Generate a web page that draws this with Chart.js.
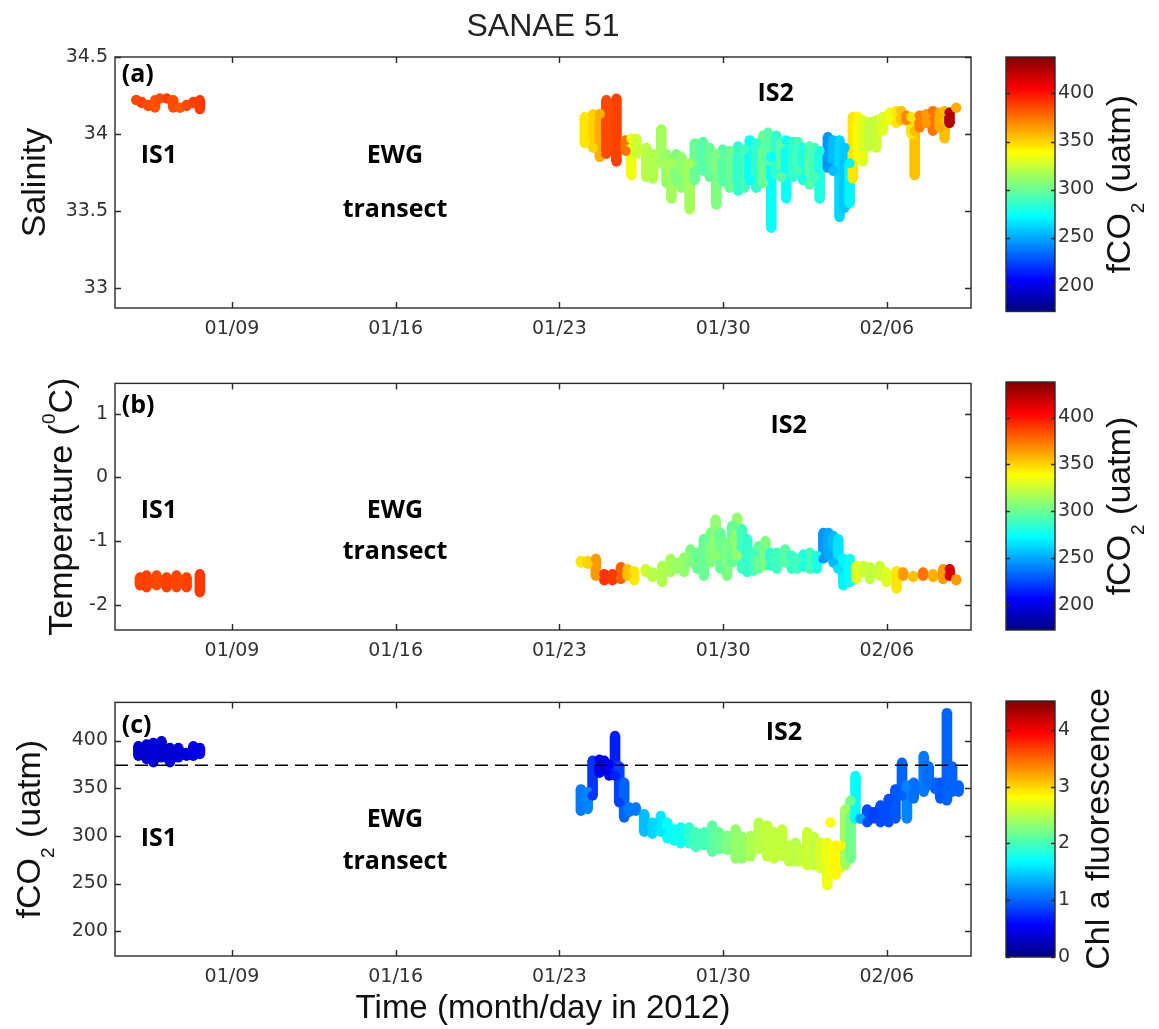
<!DOCTYPE html>
<html>
<head>
<meta charset="utf-8">
<script src="https://cdn.jsdelivr.net/npm/chart.js@4.4.1/dist/chart.umd.min.js"></script>
<style>
html, body { margin: 0; padding: 0; background: #fff; }
#wrap { position: relative; width: 1159px; height: 1029px; overflow: hidden; background: #fff; }
canvas { position: absolute; }
</style>
</head>
<body>
<div id="wrap">
  <canvas id="pa" width="990" height="340" style="left:0px;top:0px"></canvas>
  <canvas id="pb" width="990" height="300" style="left:0px;top:365px"></canvas>
  <canvas id="pc" width="990" height="345" style="left:0px;top:684px"></canvas>
  <canvas id="ca" width="169" height="300" style="left:990px;top:40px"></canvas>
  <canvas id="cb" width="169" height="300" style="left:990px;top:365px"></canvas>
  <canvas id="cc" width="169" height="345" style="left:990px;top:684px"></canvas>
</div>
<script>
// ---------------- DATA ----------------
// time axis: day of January 2012 (Feb 6 = day 37)
const xMin = 4.0, xMax = 40.6;
const xTickDays = [9, 16, 23, 30, 37];
const xTickLabels = ['01/09', '01/16', '01/23', '01/30', '02/06'];

const salinityTicks = [33, 33.5, 34, 34.5];
const temperatureTicks = [-2, -1, 0, 1];
const fco2Ticks = [200, 250, 300, 350, 400];
const fco2ColorTicks = [200, 250, 300, 350, 400];
const chlColorTicks = [0, 1, 2, 3, 4];

const fco2ColorRange = [173, 438];
const chlColorRange = [0, 4.51];
const atmosphericFco2 = 374;

// rows: [day, lowest value, highest value, colour value (fCO2)]
const salinityIS1 = [
  [4.91, 34.22, 34.22, 386], [5.14, 34.20, 34.21, 387], [5.42, 34.18, 34.19, 385],
  [5.71, 34.17, 34.22, 384], [5.92, 34.23, 34.23, 386], [6.21, 34.23, 34.23, 388],
  [6.49, 34.17, 34.22, 385], [6.78, 34.17, 34.17, 383], [7.06, 34.18, 34.19, 386],
  [7.35, 34.20, 34.21, 388], [7.63, 34.16, 34.22, 390]
];
const salinityIS2 = [
  [24.09, 33.94, 34.11, 345], [24.44, 33.91, 34.13, 350], [24.73, 33.85, 34.13, 360],
  [25.01, 33.87, 34.22, 386], [25.44, 33.82, 34.23, 388], [25.84, 33.89, 33.96, 375],
  [26.08, 33.73, 33.97, 335], [26.29, 33.87, 33.97, 325], [26.72, 33.72, 33.91, 320],
  [27.01, 33.71, 33.87, 318], [27.36, 33.81, 34.03, 315], [27.58, 33.68, 33.87, 312],
  [27.79, 33.58, 33.81, 315], [28.00, 33.70, 33.87, 305], [28.22, 33.65, 33.85, 310],
  [28.57, 33.51, 33.81, 315], [28.79, 33.70, 33.94, 300], [29.14, 33.76, 33.95, 295],
  [29.43, 33.72, 33.91, 300], [29.71, 33.54, 33.87, 305], [29.99, 33.69, 33.90, 295],
  [30.28, 33.65, 33.89, 300], [30.64, 33.63, 33.92, 285], [30.92, 33.65, 33.90, 290],
  [31.14, 33.70, 33.96, 275], [31.42, 33.65, 33.94, 285], [31.71, 33.68, 33.99, 300],
  [31.92, 33.83, 34.01, 295], [32.06, 33.39, 33.85, 275], [32.28, 33.74, 33.99, 285],
  [32.49, 33.72, 33.94, 295], [32.70, 33.58, 33.96, 275], [32.99, 33.72, 33.95, 285],
  [33.20, 33.76, 33.95, 290], [33.42, 33.70, 33.91, 280], [33.70, 33.67, 33.92, 295],
  [33.91, 33.72, 33.91, 290], [34.13, 33.58, 33.89, 280], [34.48, 33.78, 33.98, 245],
  [34.70, 33.76, 33.96, 255], [34.98, 33.46, 33.96, 262], [35.20, 33.52, 33.91, 258],
  [35.41, 33.55, 33.81, 270], [35.55, 33.71, 34.11, 345], [35.77, 33.85, 34.11, 340],
  [35.98, 33.82, 34.09, 330], [36.26, 33.92, 34.08, 322], [36.55, 33.91, 34.09, 325],
  [36.83, 34.02, 34.11, 330], [37.12, 34.09, 34.14, 335], [37.40, 34.07, 34.15, 345],
  [37.62, 34.09, 34.15, 355], [37.83, 34.09, 34.12, 370], [38.05, 34.00, 34.11, 345],
  [38.19, 33.73, 34.02, 355], [38.40, 34.04, 34.12, 372], [38.69, 34.07, 34.13, 365],
  [38.97, 34.02, 34.15, 375], [39.26, 34.04, 34.14, 360], [39.47, 33.97, 34.15, 355],
  [39.68, 34.07, 34.14, 425], [39.97, 34.17, 34.17, 360]
];

// rows: [day, lowest, highest, colour value (fCO2)]
const temperatureIS1 = [
  [5.07, -1.70, -1.57, 388], [5.35, -1.73, -1.54, 388], [5.78, -1.70, -1.54, 386],
  [6.21, -1.73, -1.57, 388], [6.63, -1.73, -1.54, 387], [7.06, -1.73, -1.57, 388],
  [7.63, -1.81, -1.52, 390]
];
const temperatureIS2 = [
  [23.92, -1.34, -1.31, 345], [24.21, -1.36, -1.31, 350], [24.56, -1.55, -1.28, 365],
  [24.92, -1.62, -1.52, 392], [25.27, -1.62, -1.52, 390], [25.63, -1.60, -1.41, 380],
  [25.91, -1.55, -1.44, 355], [26.20, -1.62, -1.47, 345], [26.69, -1.49, -1.44, 325],
  [26.98, -1.57, -1.49, 320], [27.40, -1.65, -1.39, 318], [27.76, -1.49, -1.28, 315],
  [28.04, -1.44, -1.34, 312], [28.33, -1.49, -1.26, 310], [28.61, -1.34, -1.13, 305],
  [28.89, -1.44, -1.18, 300], [29.18, -1.55, -0.97, 300], [29.46, -1.34, -0.87, 305],
  [29.68, -1.23, -0.66, 310], [29.89, -1.44, -0.87, 300], [30.17, -1.55, -1.02, 305],
  [30.39, -1.34, -0.76, 300], [30.60, -1.23, -0.63, 310], [30.81, -1.44, -0.81, 290],
  [31.03, -1.49, -0.97, 285], [31.31, -1.47, -1.18, 290], [31.52, -1.44, -1.08, 300],
  [31.81, -1.39, -1.00, 305], [32.02, -1.39, -1.18, 285], [32.30, -1.44, -1.18, 290],
  [32.66, -1.34, -1.13, 295], [32.94, -1.44, -1.23, 285], [33.16, -1.44, -1.28, 290],
  [33.44, -1.41, -1.21, 280], [33.72, -1.44, -1.18, 290], [34.01, -1.44, -1.23, 280],
  [34.29, -1.28, -0.87, 245], [34.51, -1.23, -0.87, 250], [34.72, -1.34, -0.92, 255],
  [34.93, -1.44, -0.97, 265], [35.14, -1.70, -1.28, 270], [35.43, -1.65, -1.28, 275],
  [35.71, -1.60, -1.39, 330], [36.00, -1.49, -1.39, 325], [36.28, -1.60, -1.41, 322],
  [36.71, -1.55, -1.39, 325], [36.99, -1.65, -1.49, 330], [37.42, -1.75, -1.47, 345],
  [37.70, -1.55, -1.49, 365], [38.13, -1.57, -1.55, 355], [38.55, -1.55, -1.49, 375],
  [38.98, -1.57, -1.52, 360], [39.41, -1.60, -1.44, 365], [39.69, -1.55, -1.44, 415],
  [39.97, -1.62, -1.60, 365]
];

// rows: [day, lowest, highest, colour value (Chl a fluorescence)]
const fco2IS1 = [
  [5.00, 383.8, 394.3, 0.35], [5.35, 380.4, 396.0, 0.35], [5.64, 376.9, 397.8, 0.40],
  [5.99, 382.1, 399.5, 0.35], [6.35, 376.9, 392.5, 0.35], [6.71, 382.1, 392.5, 0.40],
  [7.06, 383.8, 387.3, 0.40], [7.35, 383.8, 394.3, 0.45], [7.63, 385.6, 392.5, 0.45]
];
const fco2IS2 = [
  [23.92, 326, 349, 1.10], [24.21, 328, 346, 1.15], [24.42, 342, 379, 0.80],
  [24.71, 366, 380, 0.50], [24.92, 370, 379, 0.40], [25.13, 363, 375, 0.55],
  [25.38, 363, 405, 0.70], [25.56, 335, 373, 0.85], [25.77, 319, 356, 1.00],
  [25.99, 325, 330, 1.10], [26.27, 326, 330, 1.10], [26.63, 304, 323, 1.40],
  [26.98, 302, 314, 1.50], [27.34, 304, 321, 1.60], [27.62, 297, 314, 1.70],
  [27.91, 295, 307, 1.75], [28.19, 292, 309, 1.75], [28.55, 292, 309, 1.90],
  [28.83, 288, 304, 2.00], [29.19, 290, 304, 2.00], [29.54, 283, 311, 2.10],
  [29.83, 286, 304, 2.15], [30.18, 285, 300, 2.25], [30.54, 276, 307, 2.35],
  [30.82, 276, 299, 2.35], [31.18, 278, 300, 2.45], [31.53, 286, 314, 2.50],
  [31.89, 278, 311, 2.55], [32.17, 276, 304, 2.55], [32.53, 279, 307, 2.55],
  [32.82, 273, 290, 2.55], [33.10, 273, 293, 2.50], [33.31, 273, 286, 2.55],
  [33.60, 269, 304, 2.60], [33.88, 269, 299, 2.55], [34.17, 266, 293, 2.65],
  [34.45, 248, 293, 2.75], [34.59, 314, 314, 2.80], [34.81, 259, 290, 2.85],
  [35.02, 266, 290, 2.85], [35.23, 269, 328, 2.40], [35.45, 276, 337, 2.20],
  [35.66, 318, 363, 1.70], [35.87, 318, 318, 1.30], [36.16, 314, 328, 0.90],
  [36.44, 318, 325, 0.85], [36.73, 314, 332, 0.90], [37.08, 314, 339, 0.90],
  [37.37, 318, 349, 0.95], [37.65, 342, 377, 1.00], [37.86, 318, 353, 1.15],
  [38.15, 339, 356, 1.05], [38.58, 346, 384, 1.10], [38.79, 353, 373, 1.05],
  [39.07, 349, 356, 1.00], [39.29, 339, 356, 0.95], [39.57, 337, 429, 1.00],
  [39.79, 346, 373, 1.00], [40.07, 346, 353, 1.00]
];

// text annotations (anchored in data units)
const notesA = [
  { t: '(a)', x: 4.29, y: 34.336, align: 'left' },
  { t: 'IS1', x: 5.88, y: 33.812 },
  { t: 'EWG', x: 15.97, y: 33.812 },
  { t: 'transect', x: 15.97, y: 33.461 },
  { t: 'IS2', x: 32.25, y: 34.216 }
];
const notesB = [
  { t: '(b)', x: 4.29, y: 1.011, align: 'left' },
  { t: 'IS1', x: 5.88, y: -0.632 },
  { t: 'EWG', x: 15.97, y: -0.632 },
  { t: 'transect', x: 15.97, y: -1.279 },
  { t: 'IS2', x: 32.8, y: 0.698 }
];
const notesC = [
  { t: '(c)', x: 4.29, y: 408.1, align: 'left' },
  { t: 'IS1', x: 5.88, y: 289.9 },
  { t: 'EWG', x: 15.97, y: 309.0 },
  { t: 'transect', x: 15.97, y: 264.8 },
  { t: 'IS2', x: 32.6, y: 400.2 }
];

// ---------------- HELPERS ----------------
Chart.defaults.font.family = '"DejaVu Sans", sans-serif';
const LABEL_FONT = '"Liberation Sans", Arial, sans-serif';

function jet(v, lo, hi) {
  let f = (v - lo) / (hi - lo);
  f = Math.max(0, Math.min(1, f));
  const c = x => Math.round(255 * Math.max(0, Math.min(1, x)));
  return 'rgb(' + c(1.5 - Math.abs(4 * f - 3)) + ',' + c(1.5 - Math.abs(4 * f - 2)) + ',' + c(1.5 - Math.abs(4 * f - 1)) + ')';
}

function segmentDatasets(rows, range) {
  const colors = rows.map(r => jet(r[3], range[0], range[1]));
  const capColors = [];
  colors.forEach(c => { capColors.push(c, c); });
  return [
    {
      type: 'bar',
      data: rows.map(r => ({ x: r[0], y: [r[1], r[2]] })),
      backgroundColor: colors,
      borderWidth: 0,
      barThickness: 10,
      grouped: false,
      order: 3
    },
    {
      type: 'scatter',
      data: rows.flatMap(r => [{ x: r[0], y: r[1] }, { x: r[0], y: r[2] }]),
      backgroundColor: capColors,
      pointBackgroundColor: capColors,
      pointBorderWidth: 0,
      pointRadius: 5,
      order: 2
    }
  ];
}

const framePlugin = {
  id: 'frame',
  afterDraw(chart, args, opts) {
    const { ctx, chartArea: a } = chart;
    const L = opts.len || 6;
    ctx.save();
    ctx.strokeStyle = '#2a2a2a';
    ctx.lineWidth = 1.4;
    ctx.beginPath();
    const xs = chart.scales.x;
    if (xs && xs.options.display !== false) {
      xs.ticks.forEach(t => {
        const p = Math.round(xs.getPixelForValue(t.value)) + 0.5;
        ctx.moveTo(p, a.bottom); ctx.lineTo(p, a.bottom - L);
        ctx.moveTo(p, a.top); ctx.lineTo(p, a.top + L);
      });
    }
    const ys = chart.scales.y;
    ys.ticks.forEach(t => {
      const p = Math.round(ys.getPixelForValue(t.value)) + 0.5;
      ctx.moveTo(a.left, p); ctx.lineTo(a.left + L, p);
      ctx.moveTo(a.right, p); ctx.lineTo(a.right - L, p);
    });
    ctx.stroke();
    ctx.strokeRect(a.left, a.top, a.right - a.left, a.bottom - a.top);
    ctx.restore();
  }
};

const notesPlugin = {
  id: 'notes',
  afterDatasetsDraw(chart, args, opts) {
    if (!opts.items) return;
    const { ctx } = chart;
    ctx.save();
    ctx.fillStyle = '#000';
    ctx.font = 'bold 25px "Open Sans", sans-serif';
    ctx.textBaseline = 'alphabetic';
    opts.items.forEach(n => {
      ctx.textAlign = n.align || 'center';
      ctx.fillText(n.t, chart.scales.x.getPixelForValue(n.x), chart.scales.y.getPixelForValue(n.y));
    });
    ctx.restore();
  }
};

function drawRotated(ctx, parts, cx, cy, size) {
  ctx.save();
  ctx.translate(cx, cy);
  ctx.rotate(-Math.PI / 2);
  ctx.fillStyle = '#111';
  ctx.textBaseline = 'alphabetic';
  ctx.textAlign = 'left';
  const fMain = size + 'px ' + LABEL_FONT;
  const fSmall = Math.round(size * 0.56) + 'px ' + LABEL_FONT;
  let total = 0;
  parts.forEach(p => {
    ctx.font = p.s ? fSmall : fMain;
    p.w = ctx.measureText(p.t).width;
    total += p.w;
  });
  let x = -total / 2;
  const base = size * 0.716 / 2;
  parts.forEach(p => {
    ctx.font = p.s ? fSmall : fMain;
    const dy = p.s === 'sub' ? size * 0.42 : (p.s === 'sup' ? -size * 0.5 : 0);
    ctx.fillText(p.t, x, base + dy);
    x += p.w;
  });
  ctx.restore();
}

const rotLabelPlugin = {
  id: 'rotlabel',
  afterDraw(chart, args, opts) {
    if (!opts.parts) return;
    const a = chart.chartArea;
    drawRotated(chart.ctx, opts.parts.map(p => Object.assign({}, p)), opts.x, (a.top + a.bottom) / 2, opts.size || 34);
  }
};

const colorbarPlugin = {
  id: 'cbar',
  beforeDatasetsDraw(chart) {
    const { ctx, chartArea: a } = chart;
    const g = ctx.createLinearGradient(0, a.bottom, 0, a.top);
    for (let i = 0; i <= 64; i++) g.addColorStop(i / 64, jet(i / 64, 0, 1));
    ctx.save();
    ctx.fillStyle = g;
    ctx.fillRect(a.left, a.top, a.right - a.left, a.bottom - a.top);
    ctx.restore();
  }
};

function mainPanel(id, cfg) {
  return new Chart(document.getElementById(id), {
    type: 'bar',
    data: { datasets: cfg.datasets },
    options: {
      responsive: false,
      animation: false,
      events: [],
      layout: { padding: { left: 0, right: 19, top: cfg.padTop, bottom: 0 } },
      plugins: {
        legend: { display: false },
        tooltip: { enabled: false },
        title: cfg.title || { display: false },
        notes: { items: cfg.notes },
        rotlabel: cfg.ylabel,
        frame: { len: 6 }
      },
      scales: {
        x: {
          type: 'linear', min: xMin, max: xMax, offset: false,
          grid: { display: false, drawTicks: false },
          border: { display: false },
          afterBuildTicks: s => { s.ticks = xTickDays.map(v => ({ value: v })); },
          ticks: {
            callback: v => xTickLabels[xTickDays.indexOf(v)],
            font: { size: 19 }, color: '#333', padding: 10, maxRotation: 0, autoSkip: false
          },
          afterFit: s => { s.height = cfg.xHeight; },
          title: cfg.xTitle || { display: false }
        },
        y: {
          type: 'linear', min: cfg.yMin, max: cfg.yMax, beginAtZero: false,
          grid: { display: false, drawTicks: false },
          border: { display: false },
          afterBuildTicks: s => { s.ticks = cfg.yTicks.map(v => ({ value: v })); },
          ticks: { callback: v => String(v), font: { size: 19 }, color: '#333', padding: 7 },
          afterFit: s => { s.width = 115; }
        }
      }
    },
    plugins: [framePlugin, notesPlugin, rotLabelPlugin]
  });
}

function colorbar(id, cfg) {
  return new Chart(document.getElementById(id), {
    type: 'scatter',
    data: { datasets: [] },
    options: {
      responsive: false,
      animation: false,
      events: [],
      layout: { padding: { left: 16, right: 0, top: 17, bottom: cfg.padBottom } },
      plugins: {
        legend: { display: false },
        tooltip: { enabled: false },
        rotlabel: cfg.label,
        frame: { len: 4 }
      },
      scales: {
        x: { display: false, min: 0, max: 1 },
        y: {
          position: 'right', type: 'linear', min: cfg.range[0], max: cfg.range[1],
          grid: { display: false, drawTicks: false },
          border: { display: false },
          afterBuildTicks: s => { s.ticks = cfg.ticks.map(v => ({ value: v })); },
          ticks: { callback: v => String(v), font: { size: 19 }, color: '#333', padding: 3 },
          afterFit: s => { s.width = 104; }
        }
      }
    },
    plugins: [colorbarPlugin, framePlugin, rotLabelPlugin]
  });
}

// ---------------- CHARTS ----------------
mainPanel('pa', {
  datasets: [...segmentDatasets(salinityIS1, fco2ColorRange), ...segmentDatasets(salinityIS2, fco2ColorRange)],
  yMin: 32.87, yMax: 34.5, yTicks: salinityTicks,
  padTop: 0, xHeight: 32,
  title: {
    display: true, text: 'SANAE 51', fullSize: false, color: '#222',
    font: { size: 32, family: LABEL_FONT, weight: 'normal' },
    padding: { top: 8, bottom: 10.6 }
  },
  notes: notesA,
  ylabel: { parts: [{ t: 'Salinity' }], x: 33, size: 34 }
});

mainPanel('pb', {
  datasets: [...segmentDatasets(temperatureIS1, fco2ColorRange), ...segmentDatasets(temperatureIS2, fco2ColorRange)],
  yMin: -2.4, yMax: 1.48, yTicks: temperatureTicks,
  padTop: 17, xHeight: 35,
  notes: notesB,
  ylabel: { parts: [{ t: 'Temperature (' }, { t: '0', s: 'sup' }, { t: 'C)' }], x: 60, size: 34 }
});

mainPanel('pc', {
  datasets: [
    {
      type: 'line',
      data: [{ x: xMin, y: atmosphericFco2 }, { x: xMax, y: atmosphericFco2 }],
      borderColor: '#000', borderWidth: 1.6, borderDash: [13, 7],
      pointRadius: 0, fill: false, order: 0
    },
    ...segmentDatasets(fco2IS1, chlColorRange), ...segmentDatasets(fco2IS2, chlColorRange)
  ],
  yMin: 174, yMax: 440, yTicks: fco2Ticks,
  padTop: 17, xHeight: 73,
  xTitle: {
    display: true, text: 'Time (month/day in 2012)', color: '#111',
    font: { size: 33, family: LABEL_FONT, weight: 'normal' },
    padding: { top: 0, bottom: 0 }
  },
  notes: notesC,
  ylabel: { parts: [{ t: 'fCO' }, { t: '2', s: 'sub' }, { t: ' (uatm)' }], x: 28, size: 34 }
});

colorbar('ca', {
  range: fco2ColorRange, ticks: fco2ColorTicks, padBottom: 28.5,
  label: { parts: [{ t: 'fCO' }, { t: '2', s: 'sub' }, { t: ' (uatm)' }], x: 128, size: 34 }
});
colorbar('cb', {
  range: fco2ColorRange, ticks: fco2ColorTicks, padBottom: 35,
  label: { parts: [{ t: 'fCO' }, { t: '2', s: 'sub' }, { t: ' (uatm)' }], x: 128, size: 34 }
});
colorbar('cc', {
  range: chlColorRange, ticks: chlColorTicks, padBottom: 72,
  label: { parts: [{ t: 'Chl a fluorescence' }], x: 107, size: 34 }
});
</script>
</body>
</html>
